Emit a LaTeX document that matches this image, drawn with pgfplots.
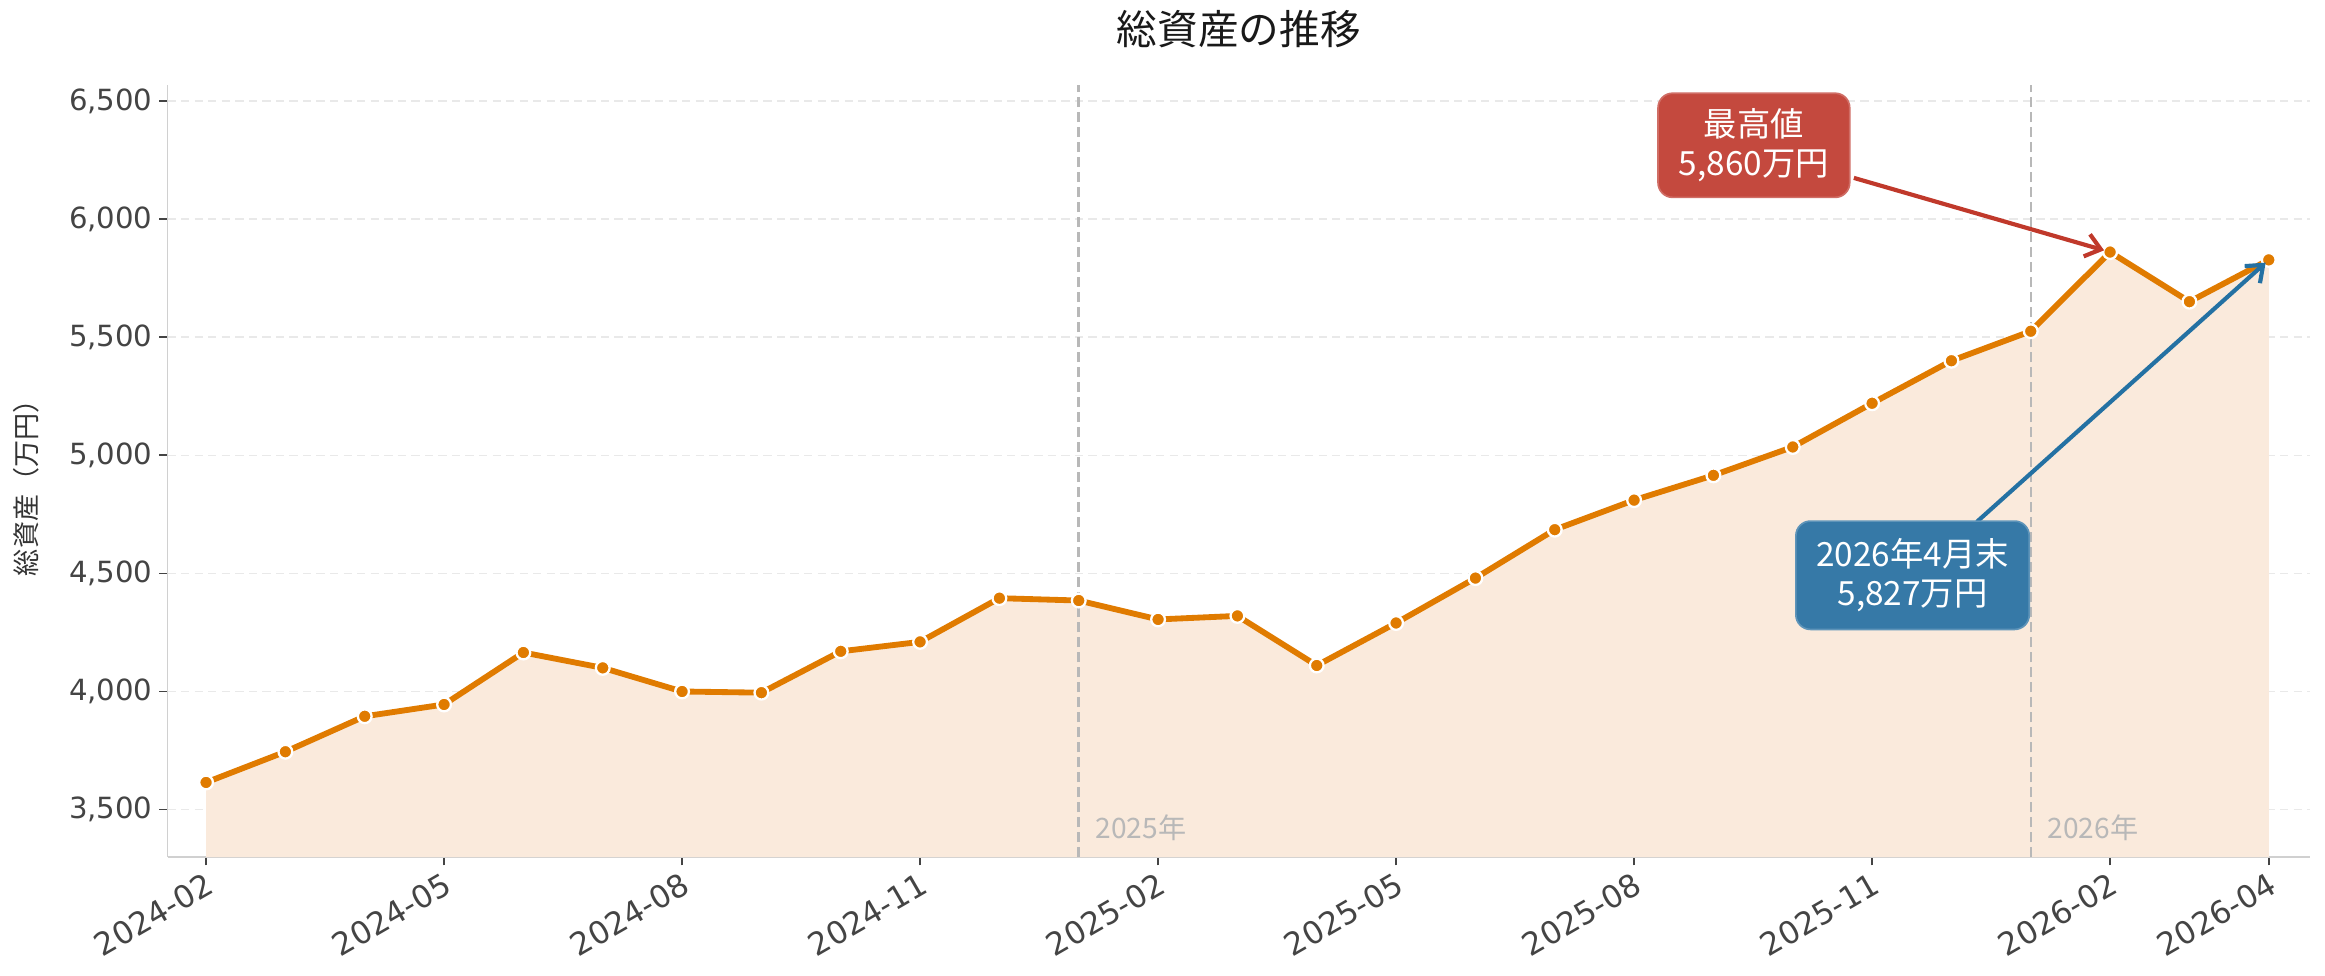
\documentclass[border=0pt]{standalone}
\usepackage{fontspec}
\setmainfont{DejaVu Sans}
\newfontfamily\jp{Noto Sans CJK JP}
\usepackage{pgfplots}
\pgfplotsset{compat=1.18}
\usetikzlibrary{arrows.meta}

\definecolor{linec}{HTML}{E07B00}
\definecolor{fillc}{HTML}{FAEADC}
\definecolor{redbox}{HTML}{C4493E}
\definecolor{redarr}{HTML}{C0392B}
\definecolor{bluebox}{HTML}{3679A7}
\definecolor{bluearr}{HTML}{2471A3}
\definecolor{tickc}{HTML}{444444}
\definecolor{spinec}{HTML}{D0D0D0}
\definecolor{gridc}{HTML}{E9E9E9}
\definecolor{vlinec}{HTML}{B8B8B8}

\pgfplotstableread{
x y
0 3615
1 3745
2 3895
3 3945
4 4165
5 4100
6 4000
7 3995
8 4170
9 4210
10 4395
11 4385
12 4305
13 4320
14 4110
15 4290
16 4480
17 4685
18 4810
19 4915
20 5035
21 5220
22 5400
23 5525
24 5860
25 5650
26 5827
}\datatable

\begin{document}
\begin{tikzpicture}
\begin{axis}[
  scale only axis, width=1028.4pt, height=370.8pt,
  xmin=-0.486, xmax=26.52, ymin=3299, ymax=6569,
  axis x line*=bottom, axis y line*=left,
  axis line style={spinec, line width=0.9pt, -},
  clip mode=individual,
  xtick={0,3,6,9,12,15,18,21,24,26},
  xticklabels={2024-02,2024-05,2024-08,2024-11,2025-02,2025-05,2025-08,2025-11,2026-02,2026-04},
  ytick={3500,4000,4500,5000,5500,6000,6500},
  /pgf/number format/assume math mode=true,
  /pgf/number format/.cd, fixed, 1000 sep={,}, /pgfplots/.cd,
  tick align=outside,
  major tick length=4pt,
  tick style={tickc, line width=0.8pt},
  yticklabel style={font=\fontsize{14}{16}\selectfont, text=tickc, inner sep=3pt},
  xticklabel style={font=\fontsize{15}{17}\selectfont, text=tickc, rotate=30, anchor=north east, inner sep=2pt},
  ymajorgrids,
  major grid style={gridc, line width=0.7pt, dash pattern=on 4pt off 2.5pt},
]
\addplot[fill=fillc, draw=none] table[x=x,y=y]{\datatable} \closedcycle;
\addplot[vlinec, line width=1.2pt, dash pattern=on 5pt off 2.2pt] coordinates {(11,3299) (11,6569)};
\addplot[vlinec, line width=1.2pt, dash pattern=on 5pt off 2.2pt] coordinates {(23,3299) (23,6569)};
\node[anchor=west, text=vlinec, font=\jp\fontsize{13.5}{15}\selectfont] at (axis cs:11.12,3425) {2025年};
\node[anchor=west, text=vlinec, font=\jp\fontsize{13.5}{15}\selectfont] at (axis cs:23.12,3425) {2026年};
\addplot[linec, line width=2.8pt, mark=*, mark size=3.3pt,
  mark options={fill=linec, draw=white, line width=1.1pt}] table[x=x,y=y]{\datatable};
\draw[redarr, line width=2pt, -{Straight Barb[length=7pt,width=11pt]}, shorten >=3pt]
  (axis cs:20.77,6174) -- (axis cs:24,5860);
\draw[bluearr, line width=2pt, -{Straight Barb[length=7pt,width=11pt]}, shorten >=2pt]
  (axis cs:22.32,4718) -- (axis cs:26,5827);
\node[fill=redbox, draw=redbox!80!white, line width=0.8pt, rounded corners=7pt, text=white,
  align=center, font=\jp\fontsize{16}{19}\selectfont, minimum width=92pt, minimum height=50pt]
  at (axis cs:19.51,6312) {最高値\\5,860万円};
\node[fill=bluebox, draw=bluebox!80!white, line width=0.8pt, rounded corners=7pt, text=white,
  align=center, font=\jp\fontsize{16}{19}\selectfont, minimum width=112pt, minimum height=52pt]
  at (axis cs:21.51,4492) {2026年4月末\\5,827万円};
\end{axis}
\node[font=\jp\fontsize{19.5}{22}\selectfont, text=black!90] at ([yshift=26.4pt]current axis.north) {総資産の推移};
\node[font=\jp\fontsize{13}{15}\selectfont, text=black!80, rotate=90] at ([xshift=-67.6pt,yshift=-5pt]current axis.west) {総資産（万円）};
\pgfresetboundingbox
\path ([xshift=-80.4pt,yshift=-56.6pt]current axis.south west) rectangle ([xshift=7.2pt,yshift=40.6pt]current axis.north east);
\end{tikzpicture}
\end{document}
